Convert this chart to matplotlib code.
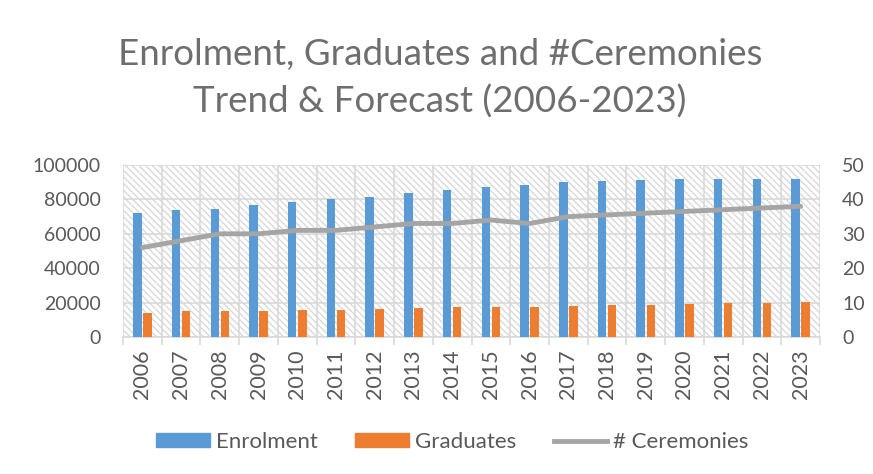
import matplotlib
matplotlib.use("Agg")
import matplotlib.pyplot as plt
import numpy as np
from matplotlib.patches import Rectangle, Patch
from matplotlib.lines import Line2D

years = [str(y) for y in range(2006, 2024)]
enrolment = [72000, 74000, 74500, 77000, 78300, 80000, 81600, 83700, 85300, 87400,
             88500, 89900, 90500, 91100, 91700, 91700, 91700, 91700]
graduates = [14000, 15000, 15000, 15000, 15700, 15800, 16300, 16700, 17600, 17600,
             17200, 18200, 18400, 18800, 19400, 19600, 19800, 20300]
ceremonies = [26, 28, 30, 30, 31, 31, 32, 33, 33, 34, 33, 35, 35.5, 36, 36.5, 37, 37.5, 38]

TXT = "#595959"
GRID = "#D9D9D9"
plt.rcParams["font.family"] = ["Lato", "DejaVu Sans"]

fig = plt.figure(figsize=(8.73, 4.74), dpi=100)
ax = fig.add_axes([123 / 873, 1 - 337 / 474, (820 - 123) / 873, (337 - 165) / 474])
ax2 = ax.twinx()

x = np.arange(len(years))
w = 0.22
# hatched plot background
ax.add_patch(Rectangle((0, 0), 1, 1, transform=ax.transAxes, facecolor="white",
                       edgecolor=GRID, hatch="\\\\\\\\\\", linewidth=0, zorder=0))
ax.bar(x - 0.13, enrolment, w, color="#5B9BD5", zorder=3)
ax.bar(x + 0.13, graduates, w, color="#ED7D31", zorder=3)
ax2.plot(x, ceremonies, color="#A5A5A5", lw=3.5, solid_capstyle="round", zorder=4)

ax.set_xlim(-0.5, len(years) - 0.5)
ax.set_ylim(0, 100000)
ax2.set_ylim(0, 50)
ax.set_yticks(range(0, 100001, 20000))
ax2.set_yticks(range(0, 51, 10))
ax.set_xticks(x)
ax.set_xticklabels(years, rotation=90)
ax.set_xticks(np.arange(-0.5, len(years)), minor=True)

for y in range(0, 100001, 20000):
    ax.axhline(y, color=GRID, lw=1.2, zorder=1)
for b in np.arange(-0.5, len(years)):
    ax.axvline(b, color=GRID, lw=1.2, zorder=1)

for a in (ax, ax2):
    for s in a.spines.values():
        s.set_visible(False)
ax.tick_params(axis="x", which="major", length=0, colors=TXT, labelsize=15.5, pad=9)
ax.tick_params(axis="x", which="minor", length=6, color=GRID, width=1.2)
ax.tick_params(axis="y", length=0, colors=TXT, labelsize=14, pad=16)
ax2.tick_params(axis="y", length=0, colors=TXT, labelsize=14, pad=16)
ax.spines["bottom"].set_visible(True)
ax.spines["bottom"].set_color(GRID)
ax.spines["bottom"].set_linewidth(1.2)

fig.text(0.504, 1 - 65 / 474, "Enrolment, Graduates and #Ceremonies", ha="center",
         va="baseline", fontsize=26.5, color="#6E6E6E")
fig.text(0.504, 1 - 113 / 474, "Trend & Forecast (2006-2023)", ha="center",
         va="baseline", fontsize=26.5, color="#6E6E6E")

handles = [Patch(color="#5B9BD5"), Patch(color="#ED7D31"),
           Line2D([0], [0], color="#A5A5A5", lw=3.5)]
fig.legend(handles, ["Enrolment", "Graduates", "# Ceremonies"], loc="center",
           bbox_to_anchor=(0.518, 1 - 442 / 474), ncol=3, frameon=False, fontsize=16,
           labelcolor=TXT, handlelength=2.4, handleheight=0.6, columnspacing=1.7,
           handletextpad=0.27)

fig.savefig("out.png", dpi=100)
